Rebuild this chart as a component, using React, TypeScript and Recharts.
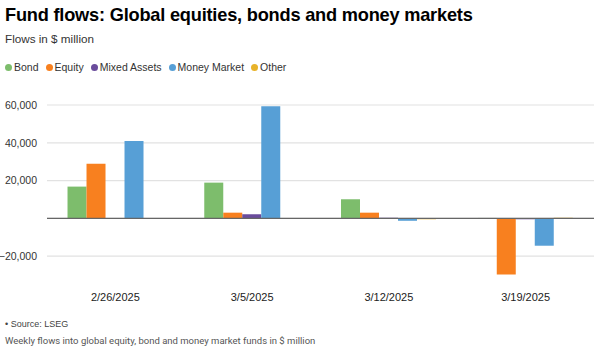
import { BarChart, Bar, XAxis, YAxis, CartesianGrid, ReferenceLine } from "recharts";

const weeks = ["2/26/2025", "3/5/2025", "3/12/2025", "3/19/2025"];
const bond = [16800, 18900, 10100, 200];
const equity = [28900, 3000, 3000, -29800];
const mixedAssets = [0, 2100, 300, -500];
const moneyMarket = [40900, 59300, -1300, -14500];
const other = [0, 0, -500, 300];
const yTicks = [-20000, 0, 20000, 40000, 60000];

const series = [
  { key: "bond", name: "Bond", color: "#7dbd6c" },
  { key: "equity", name: "Equity", color: "#f8801f" },
  { key: "mixed", name: "Mixed Assets", color: "#6a4c9c" },
  { key: "money", name: "Money Market", color: "#579fd6" },
  { key: "other", name: "Other", color: "#e8b32a" },
];

const data = weeks.map((w, i) => ({
  week: w,
  bond: bond[i],
  equity: equity[i],
  mixed: mixedAssets[i],
  money: moneyMarket[i],
  other: other[i],
}));

const fmt = (v: number) => {
  if (v === 0) return "";
  const s = Math.abs(v).toLocaleString("en-US");
  return v < 0 ? "\u2212" + s : s;
};

export default function App() {
  return (
    <div
      style={{
        position: "fixed",
        left: 0,
        top: 0,
        width: 596,
        height: 352,
        background: "#fff",
        fontFamily: "'Liberation Sans', Arial, sans-serif",
        color: "#000",
        overflow: "hidden",
      }}
    >
      <div style={{ position: "absolute", left: 5, top: 5, fontSize: 18.2, fontWeight: 700, letterSpacing: -0.2, whiteSpace: "nowrap" }}>
        Fund flows: Global equities, bonds and money markets
      </div>
      <div style={{ position: "absolute", left: 5, top: 32, fontSize: 11.7, color: "#333" }}>Flows in $ million</div>
      <div style={{ position: "absolute", left: 5, top: 61, display: "flex", fontSize: 10.5, color: "#333" }}>
        {series.map((s) => (
          <div key={s.key} style={{ display: "flex", alignItems: "center", marginRight: 7 }}>
            <span
              style={{ width: 7, height: 7, borderRadius: "50%", background: s.color, display: "inline-block", marginRight: 2 }}
            />
            {s.name}
          </div>
        ))}
      </div>

      <div style={{ position: "absolute", left: 0, top: 80 }}>
        <BarChart
          width={596}
          height={230}
          data={data}
          margin={{ top: 25, right: 2, left: 0, bottom: 0 }}
          barCategoryGap="15%"
          barGap={0}
        >
          <CartesianGrid vertical={false} stroke="#e2e2e2" strokeWidth={1.2} syncWithTicks />
          <XAxis
            dataKey="week"
            axisLine={false}
            tickLine={false}
            tick={{ fontSize: 11, fill: "#222" }}
            tickMargin={12}
            height={35}
          />
          <YAxis
            domain={[-30000, 60000]}
            ticks={yTicks}
            tickFormatter={fmt}
            axisLine={false}
            tickLine={false}
            tick={{ fontSize: 10.5, fill: "#333" }}
            tickMargin={4}
            width={47}
            interval={0}
          />
          <ReferenceLine y={0} stroke="#666" strokeWidth={1.2} />
          {series.map((s) => (
            <Bar key={s.key} dataKey={s.key} name={s.name} fill={s.color} isAnimationActive={false} />
          ))}
        </BarChart>
      </div>

      <div style={{ position: "absolute", left: 5, top: 319, fontSize: 9, color: "#444" }}>• Source: LSEG</div>
      <div style={{ position: "absolute", left: 5, top: 335, fontSize: 9.5, color: "#555", fontFamily: "Roboto, sans-serif", whiteSpace: "nowrap" }}>
        Weekly flows into global equity, bond and money market funds in $ million
      </div>
    </div>
  );
}
